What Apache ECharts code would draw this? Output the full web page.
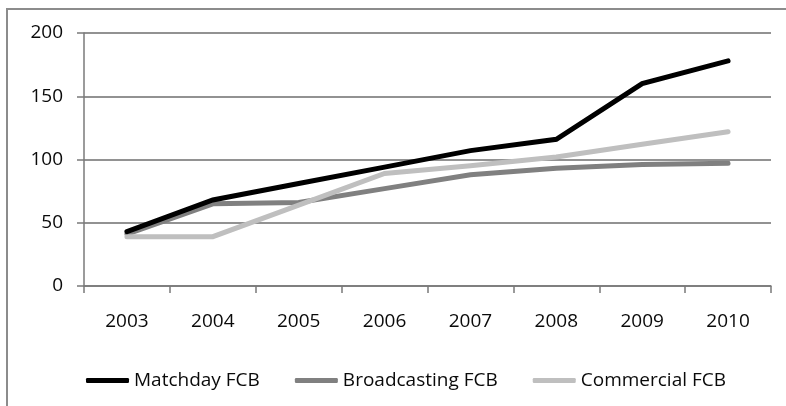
<!DOCTYPE html>
<html>
<head>
<meta charset="utf-8">
<style>
  html, body { margin: 0; padding: 0; background: #ffffff; }
  #chart { width: 786px; height: 406px; }
</style>
<script src="https://cdn.jsdelivr.net/npm/echarts@6/dist/echarts.min.js"></script>
</head>
<body>
<div id="chart"></div>
<script>
// FC Barcelona revenue streams (million €), 2003–2010
const years = ['2003', '2004', '2005', '2006', '2007', '2008', '2009', '2010'];
const matchday = [43, 68, 81, 94, 107, 116, 160, 178];
const broadcasting = [41, 65, 66, 77, 88, 93, 96, 97];
const commercial = [39, 39, 64, 89, 95, 102, 112, 122];
const yTicks = { min: 0, max: 200, interval: 50 };

const FONT = '"Open Sans", "Liberation Sans", Arial, sans-serif';
const AXIS_GREY = '#7a7a7a';
const TEXT = '#0a0a0a';

const chart = echarts.init(document.getElementById('chart'), null, { renderer: 'canvas' });

function lineSeries(name, data, color, z) {
  return {
    name: name,
    type: 'line',
    data: data,
    showSymbol: false,
    symbol: 'none',
    z: z,
    color: color,
    lineStyle: { color: color, width: 5, cap: 'round', join: 'miter' },
    emphasis: { disabled: true }
  };
}

chart.setOption({
  animation: false,
  backgroundColor: '#ffffff',
  textStyle: { fontFamily: FONT },
  graphic: [{
    type: 'rect',
    silent: true,
    shape: { x: 7, y: 9, width: 820, height: 430 },
    style: { fill: 'none', stroke: '#8c8c8c', lineWidth: 2 }
  }],
  grid: { left: 84, right: 15, top: 33, bottom: 120, containLabel: false },
  legend: {
    left: 81,
    top: 366,
    icon: 'roundRect',
    itemWidth: 43,
    itemHeight: 5,
    itemGap: 35,
    selectedMode: false,
    textStyle: { fontFamily: FONT, fontSize: 19, color: TEXT },
    data: ['Matchday FCB', 'Broadcasting FCB', 'Commercial FCB']
  },
  xAxis: {
    type: 'category',
    data: years,
    boundaryGap: true,
    axisLine: { show: true, lineStyle: { color: AXIS_GREY, width: 1.5 } },
    axisTick: { show: true, length: 7, inside: false, alignWithLabel: false,
                lineStyle: { color: AXIS_GREY, width: 1.5 } },
    axisLabel: { fontFamily: FONT, fontSize: 19, color: TEXT, margin: 26,
                 verticalAlign: 'top', interval: 0 },
    splitLine: { show: false }
  },
  yAxis: {
    type: 'value',
    min: yTicks.min,
    max: yTicks.max,
    interval: yTicks.interval,
    axisLine: { show: true, lineStyle: { color: AXIS_GREY, width: 1.5 } },
    axisTick: { show: true, length: 7, inside: false,
                lineStyle: { color: AXIS_GREY, width: 1.5 } },
    axisLabel: { fontFamily: FONT, fontSize: 19, color: TEXT, margin: 21,
                 padding: [7, 0, 0, 0] },
    splitLine: { show: true, lineStyle: { color: '#6e6e6e', width: 1.5 } }
  },
  series: [
    lineSeries('Matchday FCB', matchday, '#000000', 4),
    lineSeries('Broadcasting FCB', broadcasting, '#808080', 2),
    lineSeries('Commercial FCB', commercial, '#bfbfbf', 3)
  ]
});
</script>
</body>
</html>
